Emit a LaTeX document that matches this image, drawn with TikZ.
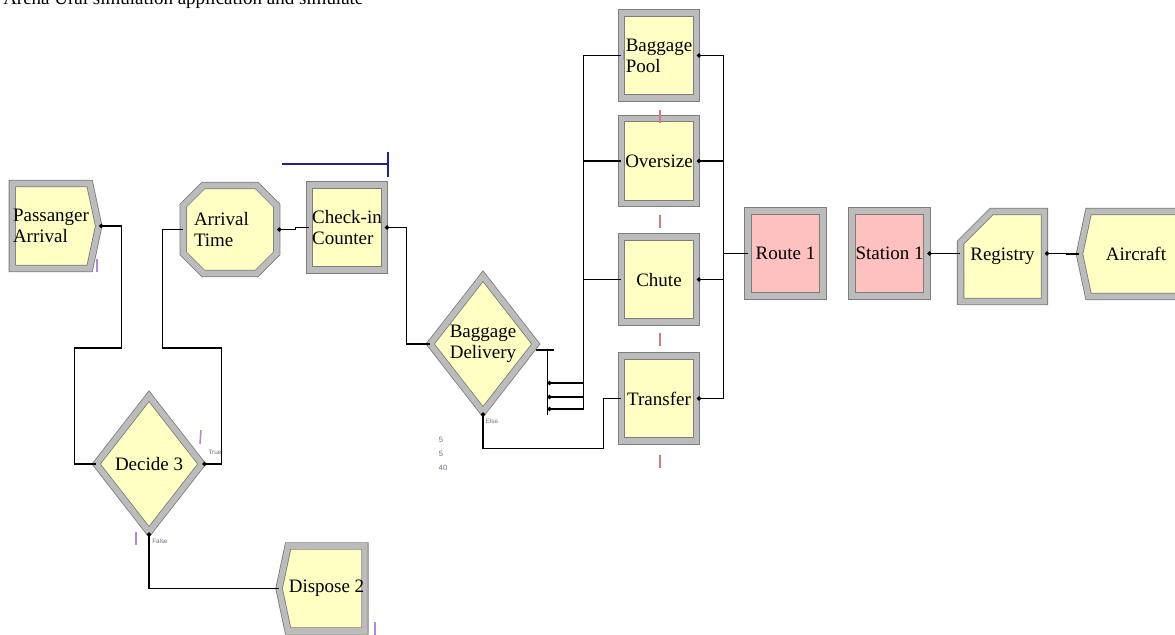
\documentclass[tikz,border=0pt]{standalone}
\usepackage{fontspec}
\setmainfont{Liberation Serif}
\setsansfont{Liberation Sans}
\usetikzlibrary{shapes.geometric, shapes.misc, shapes.symbols, arrows.meta, positioning, calc}
\definecolor{modyel}{RGB}{255,255,196}
\definecolor{modpink}{RGB}{255,192,192}
\definecolor{bevgray}{RGB}{188,188,188}
\definecolor{bordgray}{RGB}{125,125,125}
\definecolor{animblue}{RGB}{30,30,160}
\definecolor{animlila}{RGB}{170,140,215}
\definecolor{animred}{RGB}{215,120,135}
\definecolor{tinygray}{RGB}{110,110,140}
\def\pxu{0.025cm}

\begin{document}
\begin{tikzpicture}[x=0.025cm, y=-0.025cm,
    modl/.style={draw=bordgray, double=bevgray, double distance=4pt, line width=0.6pt,
        fill=modyel, font=\fontsize{13.5}{15}\selectfont, inner sep=0.5pt, align=left,
        minimum width=75*\pxu, minimum height=85*\pxu},
    procbox/.style={modl, rectangle},
    stnbox/.style={procbox, fill=modpink},
    octbox/.style={modl, chamfered rectangle, chamfered rectangle xsep=10*\pxu,
        chamfered rectangle ysep=10*\pxu},
    regbox/.style={modl, chamfered rectangle, chamfered rectangle corners=north west,
        chamfered rectangle xsep=16*\pxu, chamfered rectangle ysep=22*\pxu},
    crtbox/.style={modl, signal, signal to=east, signal pointer angle=156},
    dspbox/.style={modl, signal, signal to=west, signal pointer angle=156},
    decbox/.style={modl, diamond, align=center, aspect=0.78,
        minimum width=106*\pxu, minimum height=136*\pxu},
    conn/.style={draw, line width=0.75pt},
    outdot/.style={{Circle[length=3pt]}-},
    tinylbl/.style={font=\fontsize{4.5}{5}\sffamily, text=tinygray, inner sep=0pt},
    liltick/.style={draw=animlila, line width=1.1pt},
    redtick/.style={draw=animred, line width=1.1pt}
]
    \useasboundingbox (0,0) rectangle (1175,634);
    \node[anchor=base west, font=\fontsize{13.5}{15}\selectfont, inner sep=0pt] (ttl) at (3,4)
        {Arena Ural simulation application and simulate};

    % modules
    \node[crtbox] (pa) at (51,226) {Passanger\\Arrival};
    \node[octbox, text width=72*\pxu, minimum height=88*\pxu] (at) at (230,229.5) {Arrival\\Time};
    \node[procbox] (ci) at (347,227.5) {Check-in\\Counter};
    \node[decbox] (d3) at (149,464) {Decide 3};
    \node[dspbox] (dp) at (326.5,588.5) {Dispose 2};
    \node[decbox] (bd) at (483,344) {Baggage\\Delivery};
    \node[procbox] (bp) at (659,55.5) {Baggage\\Pool};
    \node[procbox] (os) at (659,161) {Oversize};
    \node[procbox] (ch) at (659,279.5) {Chute};
    \node[procbox] (tr) at (659,398.5) {Transfer};
    \node[stnbox] (r1) at (785.5,253.5) {Route 1};
    \node[stnbox] (s1) at (889.5,253.5) {Station 1};
    \node[regbox, minimum width=78*\pxu, minimum height=90*\pxu] (rg) at (1002.5,256.5) {Registry};
    \node[dspbox, minimum width=104*\pxu] (ac) at (1136,254) {Aircraft};

    % connectors
    \draw[conn, outdot] (pa.east) -| ($(pa.east)+(22,122)$) -| ($(d3.west)+(-21,0)$) -- (d3.west);
    \draw[conn, outdot] (d3.east) -| ($(d3.east)+(19,-116)$) -| ($(at.west)+(-20,0)$) -- (at.west);
    \draw[conn, outdot] (d3.south) |- (dp.west);
    \draw[conn, outdot] (at.east) -- ++(18,0) |- (ci.west);
    \draw[conn, outdot] (ci.east) -| ($(bd.west)+(-23,0)$) -- (bd.west);
    \draw[conn] ($(bd.east)+(0,6)$) -- ++(18,0);
    \draw[conn] ($(bd.east)+(11,6)$) -- ++(0,65);
    \coordinate (e1) at ($(bd.east)+(11,39)$);
    \coordinate (e2) at ($(bd.east)+(11,53)$);
    \coordinate (e3) at ($(bd.east)+(11,65)$);
    \draw[conn, outdot] (e1) -- ++(36,0) |- (ch.west);
    \draw[conn, outdot] (e2) -- ++(36,0) |- (os.west);
    \draw[conn, outdot] (e3) -- ++(36,0) |- (bp.west);
    \draw[conn, outdot] (bd.south) -- ++(0,36) -| ($(tr.west)+(-18,0)$) -- (tr.west);
    \foreach \m in {bp,os,ch,tr}
        \draw[conn, outdot] (\m.east) -| ($(r1.west)+(-24,0)$) -- (r1.west);
    \draw[conn, outdot] (s1.east) -- (s1.east -| rg.west);
    \draw[conn, outdot] (rg.east |- s1.east) -- ++(22,0) |- (ac.west);

    % exit labels and counters
    \node[tinylbl] (lt) at (215,452) {True};
    \node[tinylbl] (lf) at (160,541) {False};
    \node[tinylbl] (le) at (492,421) {Else};
    \node[tinylbl, font=\fontsize{5.5}{6}\sffamily] (n1) at (441,440) {5};
    \node[tinylbl, font=\fontsize{5.5}{6}\sffamily] (n2) at (441,454) {5};
    \node[tinylbl, font=\fontsize{5.5}{6}\sffamily] (n3) at (443,468) {40};

    % animation marks
    \draw[animblue, line width=0.8pt] (282,164) -- (388,164);
    \draw[animblue, line width=0.8pt] (388,152) -- (388,177);
    \draw[liltick] (97,259) -- (97,272);
    \draw[liltick] (201,430) -- (200,444);
    \draw[liltick] (136,532) -- (136,545);
    \draw[liltick] (375,622) -- (375,636);
    \draw[liltick, line width=0.6pt] (623,50) -- (623,60);
    \foreach \yy in {110,215,333,455}
        \draw[redtick] (660,\yy) -- (660,\yy+13);
\end{tikzpicture}
\end{document}
